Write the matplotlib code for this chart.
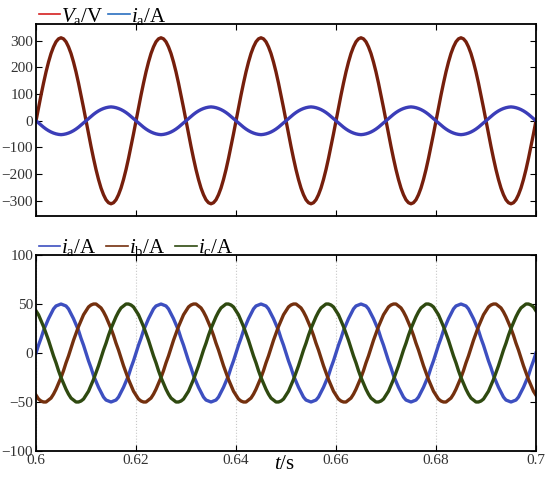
import numpy as np
import matplotlib
matplotlib.use('Agg')
import matplotlib.pyplot as plt

plt.rcParams['font.family'] = ['Liberation Serif', 'DejaVu Serif']
plt.rcParams['mathtext.fontset'] = 'custom'
plt.rcParams['mathtext.rm'] = 'Liberation Serif'
plt.rcParams['mathtext.it'] = 'Liberation Serif:italic'

# time base, 0.5 ms samples from 0.6 s to 0.7 s
t = np.linspace(0.6, 0.7, 201)

# top panel: phase-a voltage (V) and current (A)
va = [0, 49, 96, 141, 183, 220, 252, 277, 296, 307, 311, 307, 296, 277, 252, 220, 183, 141, 96, 49,
      0, -49, -96, -141, -183, -220, -252, -277, -296, -307, -311, -307, -296, -277, -252, -220, -183, -141, -96, -49,
      0, 49, 96, 141, 183, 220, 252, 277, 296, 307, 311, 307, 296, 277, 252, 220, 183, 141, 96, 49,
      0, -49, -96, -141, -183, -220, -252, -277, -296, -307, -311, -307, -296, -277, -252, -220, -183, -141, -96, -49,
      0, 49, 96, 141, 183, 220, 252, 277, 296, 307, 311, 307, 296, 277, 252, 220, 183, 141, 96, 49,
      0, -49, -96, -141, -183, -220, -252, -277, -296, -307, -311, -307, -296, -277, -252, -220, -183, -141, -96, -49,
      0, 49, 96, 141, 183, 220, 252, 277, 296, 307, 311, 307, 296, 277, 252, 220, 183, 141, 96, 49,
      0, -49, -96, -141, -183, -220, -252, -277, -296, -307, -311, -307, -296, -277, -252, -220, -183, -141, -96, -49,
      0, 49, 96, 141, 183, 220, 252, 277, 296, 307, 311, 307, 296, 277, 252, 220, 183, 141, 96, 49,
      0, -49, -96, -141, -183, -220, -252, -277, -296, -307, -311, -307, -296, -277, -252, -220, -183, -141, -96, -49,
      0]
ia_top = [0, -8, -16, -24, -31, -37, -42, -46, -49, -51, -52, -51, -49, -46, -42, -37, -31, -24, -16, -8,
          0, 8, 16, 24, 31, 37, 42, 46, 49, 51, 52, 51, 49, 46, 42, 37, 31, 24, 16, 8,
          0, -8, -16, -24, -31, -37, -42, -46, -49, -51, -52, -51, -49, -46, -42, -37, -31, -24, -16, -8,
          0, 8, 16, 24, 31, 37, 42, 46, 49, 51, 52, 51, 49, 46, 42, 37, 31, 24, 16, 8,
          0, -8, -16, -24, -31, -37, -42, -46, -49, -51, -52, -51, -49, -46, -42, -37, -31, -24, -16, -8,
          0, 8, 16, 24, 31, 37, 42, 46, 49, 51, 52, 51, 49, 46, 42, 37, 31, 24, 16, 8,
          0, -8, -16, -24, -31, -37, -42, -46, -49, -51, -52, -51, -49, -46, -42, -37, -31, -24, -16, -8,
          0, 8, 16, 24, 31, 37, 42, 46, 49, 51, 52, 51, 49, 46, 42, 37, 31, 24, 16, 8,
          0, -8, -16, -24, -31, -37, -42, -46, -49, -51, -52, -51, -49, -46, -42, -37, -31, -24, -16, -8,
          0, 8, 16, 24, 31, 37, 42, 46, 49, 51, 52, 51, 49, 46, 42, 37, 31, 24, 16, 8,
          0]

# bottom panel: three phase currents (A)
ia = [0, 8, 15, 23, 29, 35, 40, 45, 48, 49, 50, 49, 48, 45, 40, 35, 29, 23, 15, 8,
      0, -8, -15, -23, -29, -35, -40, -45, -48, -49, -50, -49, -48, -45, -40, -35, -29, -23, -15, -8,
      0, 8, 15, 23, 29, 35, 40, 45, 48, 49, 50, 49, 48, 45, 40, 35, 29, 23, 15, 8,
      0, -8, -15, -23, -29, -35, -40, -45, -48, -49, -50, -49, -48, -45, -40, -35, -29, -23, -15, -8,
      0, 8, 15, 23, 29, 35, 40, 45, 48, 49, 50, 49, 48, 45, 40, 35, 29, 23, 15, 8,
      0, -8, -15, -23, -29, -35, -40, -45, -48, -49, -50, -49, -48, -45, -40, -35, -29, -23, -15, -8,
      0, 8, 15, 23, 29, 35, 40, 45, 48, 49, 50, 49, 48, 45, 40, 35, 29, 23, 15, 8,
      0, -8, -15, -23, -29, -35, -40, -45, -48, -49, -50, -49, -48, -45, -40, -35, -29, -23, -15, -8,
      0, 8, 15, 23, 29, 35, 40, 45, 48, 49, 50, 49, 48, 45, 40, 35, 29, 23, 15, 8,
      0, -8, -15, -23, -29, -35, -40, -45, -48, -49, -50, -49, -48, -45, -40, -35, -29, -23, -15, -8,
      0]
ib = [-43, -47, -49, -50, -50, -48, -46, -42, -37, -31, -25, -18, -10, -3, 5, 13, 20, 27, 33, 39,
      43, 47, 49, 50, 50, 48, 46, 42, 37, 31, 25, 18, 10, 3, -5, -13, -20, -27, -33, -39,
      -43, -47, -49, -50, -50, -48, -46, -42, -37, -31, -25, -18, -10, -3, 5, 13, 20, 27, 33, 39,
      43, 47, 49, 50, 50, 48, 46, 42, 37, 31, 25, 18, 10, 3, -5, -13, -20, -27, -33, -39,
      -43, -47, -49, -50, -50, -48, -46, -42, -37, -31, -25, -18, -10, -3, 5, 13, 20, 27, 33, 39,
      43, 47, 49, 50, 50, 48, 46, 42, 37, 31, 25, 18, 10, 3, -5, -13, -20, -27, -33, -39,
      -43, -47, -49, -50, -50, -48, -46, -42, -37, -31, -25, -18, -10, -3, 5, 13, 20, 27, 33, 39,
      43, 47, 49, 50, 50, 48, 46, 42, 37, 31, 25, 18, 10, 3, -5, -13, -20, -27, -33, -39,
      -43, -47, -49, -50, -50, -48, -46, -42, -37, -31, -25, -18, -10, -3, 5, 13, 20, 27, 33, 39,
      43, 47, 49, 50, 50, 48, 46, 42, 37, 31, 25, 18, 10, 3, -5, -13, -20, -27, -33, -39,
      -43]
ic = [43, 39, 33, 27, 20, 13, 5, -3, -10, -18, -25, -31, -37, -42, -46, -48, -50, -50, -49, -47,
      -43, -39, -33, -27, -20, -13, -5, 3, 10, 18, 25, 31, 37, 42, 46, 48, 50, 50, 49, 47,
      43, 39, 33, 27, 20, 13, 5, -3, -10, -18, -25, -31, -37, -42, -46, -48, -50, -50, -49, -47,
      -43, -39, -33, -27, -20, -13, -5, 3, 10, 18, 25, 31, 37, 42, 46, 48, 50, 50, 49, 47,
      43, 39, 33, 27, 20, 13, 5, -3, -10, -18, -25, -31, -37, -42, -46, -48, -50, -50, -49, -47,
      -43, -39, -33, -27, -20, -13, -5, 3, 10, 18, 25, 31, 37, 42, 46, 48, 50, 50, 49, 47,
      43, 39, 33, 27, 20, 13, 5, -3, -10, -18, -25, -31, -37, -42, -46, -48, -50, -50, -49, -47,
      -43, -39, -33, -27, -20, -13, -5, 3, 10, 18, 25, 31, 37, 42, 46, 48, 50, 50, 49, 47,
      43, 39, 33, 27, 20, 13, 5, -3, -10, -18, -25, -31, -37, -42, -46, -48, -50, -50, -49, -47,
      -43, -39, -33, -27, -20, -13, -5, 3, 10, 18, 25, 31, 37, 42, 46, 48, 50, 50, 49, 47,
      43]

xticks = [0.6, 0.62, 0.64, 0.66, 0.68, 0.7]
xticklabels = ['0.6', '0.62', '0.64', '0.66', '0.68', '0.7']
yticks_top = [-300, -200, -100, 0, 100, 200, 300]
yticks_bot = [-100, -50, 0, 50, 100]

fig = plt.figure(figsize=(5.5, 4.78), dpi=100)
ax1 = fig.add_axes([0.0655, 0.548, 0.909, 0.402])
ax2 = fig.add_axes([0.0655, 0.0565, 0.909, 0.41])

lw = 2.4
ax1.plot(t, va, color='#761f0c', lw=lw, label=r'$V_{\rm a}$/V')
ax1.plot(t, ia_top, color='#3b3db8', lw=lw, label=r'$i_{\rm a}$/A')
ax1.set_xlim(0.6, 0.7)
ax1.set_ylim(-357, 363)
ax1.set_xticks(xticks)
ax1.set_xticklabels([])
ax1.set_yticks(yticks_top)

ax2.plot(t, ia, color='#3d4fc0', lw=lw, label=r'$i_{\rm a}$/A')
ax2.plot(t, ib, color='#74300e', lw=lw, label=r'$i_{\rm b}$/A')
ax2.plot(t, ic, color='#2f4a10', lw=lw, label=r'$i_{\rm c}$/A')
ax2.set_xlim(0.6, 0.7)
ax2.set_ylim(-100, 100)
ax2.set_xticks(xticks)
ax2.set_xticklabels(xticklabels)
ax2.set_yticks(yticks_bot)
ax2.grid(axis='x', color='#c8c8c8', linestyle=':', linewidth=0.8)

for ax in (ax1, ax2):
    ax.tick_params(direction='in', top=True, right=True, length=4, width=0.8,
                   labelsize=11, labelcolor='#333333', pad=2)
    for s in ax.spines.values():
        s.set_linewidth(1.3)

leg_kw = dict(loc='lower left', bbox_to_anchor=(0.005, 0.985), frameon=False,
              fontsize=15, handlelength=1.05, handletextpad=0.05,
              borderpad=0, borderaxespad=0)
leg1 = ax1.legend(ncol=2, columnspacing=0.2, **leg_kw)
leg1.get_lines()[0].set_color('#d42020')
leg1.get_lines()[1].set_color('#2a6fc0')
for ln in leg1.get_lines():
    ln.set_linewidth(1.2)

leg2 = ax2.legend(ncol=3, columnspacing=0.45, **leg_kw)
for ln in leg2.get_lines():
    ln.set_linewidth(1.2)

fig.text(0.518, 0.028, r'$t$/s', fontsize=15, ha='center', va='center')

fig.savefig('out.png', dpi=100)
